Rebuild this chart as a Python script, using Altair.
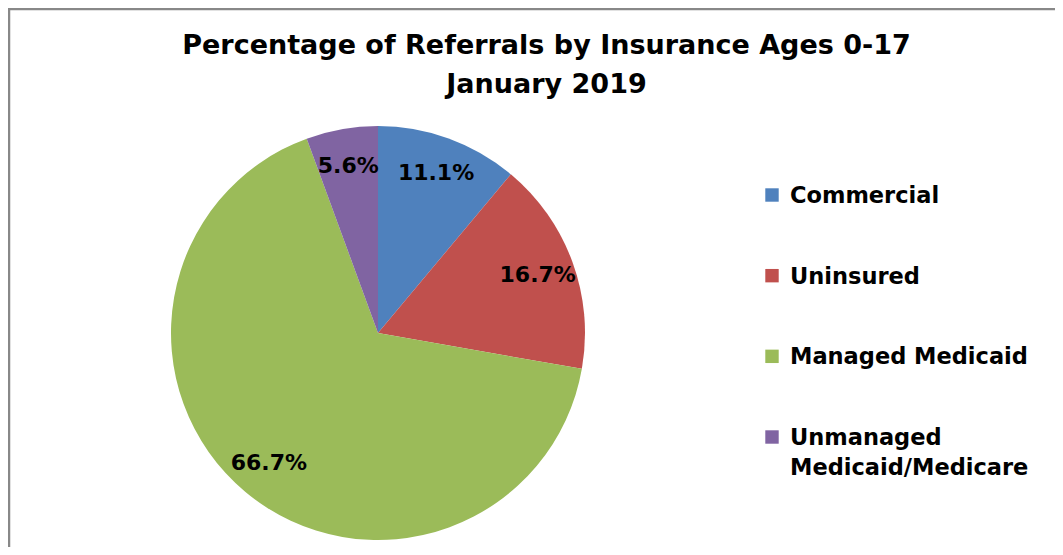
import altair as alt
import pandas as pd

categories = ["Commercial", "Uninsured", "Managed Medicaid", "Unmanaged Medicaid/Medicare"]
values = [11.1, 16.7, 66.7, 5.6]
order = [1, 2, 3, 4]
colors = ["#4F81BD", "#C0504D", "#9BBB59", "#8064A2"]
legend_labels = ["Commercial", "Uninsured", "Managed Medicaid", "Unmanaged\nMedicaid/Medicare"]

title_lines = ["Percentage of Referrals by Insurance Ages 0-17", "January 2019"]

df = pd.DataFrame({"category": categories, "value": values, "order": order})
leg = pd.DataFrame({"category": categories, "label": legend_labels, "order": order})
frame = pd.DataFrame({"edge": ["left", "top"]})

FONT = "DejaVu Sans"
CX, CY = 370, 325
W, H = 1047, 539

color = alt.Color("category:N", scale=alt.Scale(domain=categories, range=colors), legend=None)

base = alt.Chart(df).encode(
    theta=alt.Theta("value:Q", stack=True),
    order=alt.Order("order:Q"),
)

pie = base.mark_arc(radius=207).encode(
    color=color,
    x=alt.value(CX),
    y=alt.value(CY),
)

labels = base.transform_calculate(
    label="format(datum.value, '.1f') + '%'"
).mark_text(radius=170, font=FONT, fontWeight="bold", fontSize=22, color="black").encode(
    text="label:N",
    x=alt.value(CX),
    y=alt.value(CY),
)

yscale = alt.Scale(domain=categories, type="point", range=[187, 429], padding=0)

leg_sq = alt.Chart(leg).mark_square(size=180, opacity=1).encode(
    y=alt.Y("category:N", scale=yscale, axis=None),
    x=alt.value(764),
    color=color,
)

leg_txt = alt.Chart(leg).mark_text(
    align="left", baseline="alphabetic", dy=8, font=FONT, fontWeight="bold",
    fontSize=22.5, color="black", lineBreak="\n", lineHeight=30,
).encode(
    y=alt.Y("category:N", scale=yscale, axis=None),
    x=alt.value(782),
    text="label:N",
)

left_edge = alt.Chart(frame).transform_filter("datum.edge == 'left'").mark_rule(
    color="#888888", strokeWidth=2.5
).encode(x=alt.value(1), y=alt.value(0), y2=alt.value(H))

top_edge = alt.Chart(frame).transform_filter("datum.edge == 'top'").mark_rule(
    color="#888888", strokeWidth=2.5
).encode(x=alt.value(0), x2=alt.value(W), y=alt.value(1))

chart = alt.layer(pie, labels, leg_sq, leg_txt, left_edge, top_edge).properties(
    width=W,
    height=H,
    autosize=alt.AutoSizeParams(type="none"),
    padding=0,
    title=alt.TitleParams(
        text=title_lines, font=FONT, fontSize=27, fontWeight="bold", color="black",
        anchor="middle", baseline="top", offset=0, dy=92, dx=15, lineHeight=39,
    ),
).configure_view(stroke=None).configure(background="white")

chart.save("out.html", embed_options={"renderer": "svg", "actions": False})
